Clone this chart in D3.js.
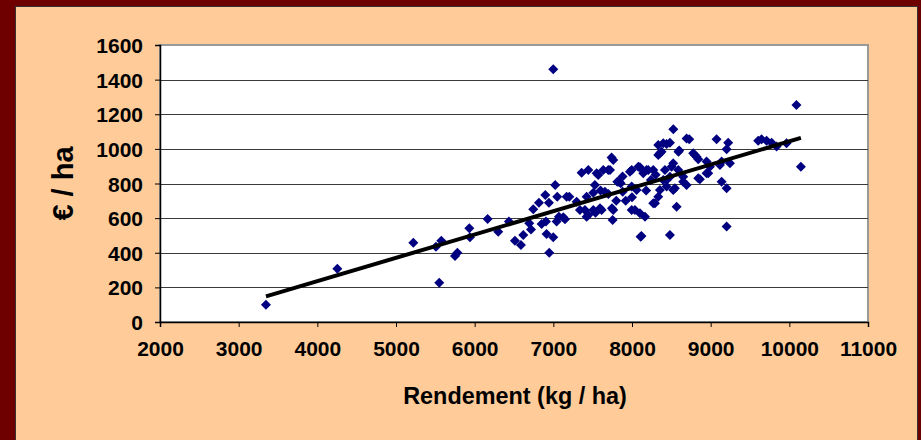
<!DOCTYPE html>
<html>
<head>
<meta charset="utf-8">
<script src="https://cdn.jsdelivr.net/npm/d3@7"></script>
<style>
  body { margin: 0; background: #6e0000; }
  #vis { width: 921px; height: 440px; }
  text { font-family: "Liberation Sans", Arial, sans-serif; font-weight: bold; fill: #000; }
</style>
</head>
<body>
<div id="vis"></div>
<script>
// rendement (kg/ha) and €/ha
var rendement = [3347, 4254, 5220, 5508, 5576, 5550, 5750, 5780, 5932, 5940,
  6165, 6300, 6436, 6512, 6588, 6618, 6694, 6716, 6745, 6817,
  6898, 6944, 6851, 6906, 6914, 6999, 6948, 7024, 7050, 7042,
  7071, 7148, 7203, 7296, 7338, 7423, 7423, 7536, 7614, 7528,
  7571, 7656, 7762, 7754, 7834, 7882, 7996, 8101, 8165, 8110,
  8270, 6999, 7762, 7740, 7360, 7445, 7550, 7635, 7698, 7996,
  8101, 8207, 8334, 8334, 8525, 8440, 8482, 8694, 8355, 8376,
  8590, 7720, 7508, 7402, 7445, 7508, 7593, 7745, 7169, 7126,
  7813, 7856, 7974, 8080, 8143, 7996, 8059, 8037, 8334, 8397,
  8482, 8524, 8588, 8651, 8355, 8440, 8545, 8567, 8120, 8482,
  8728, 9075, 9223, 9203, 9604, 9647, 9711, 9775, 9838, 9965,
  8800, 8842, 8948, 8990, 9139, 9245, 8863, 8948, 9139, 9203,
  8651, 8694, 8524, 8397, 8419, 8503, 8440, 10090, 10147, 9203,
  8292, 8600, 8778, 8820, 8969, 8842, 9118, 8185, 8270, 7600,
  7700, 7920, 8180, 8240, 8300, 7880, 8000, 7800];
var euroHa = [100, 308, 458, 435, 470, 227, 381, 400, 541, 489,
  595, 522, 580, 470, 445, 503, 570, 535, 651, 689,
  734, 689, 566, 580, 508, 489, 400, 792, 724, 580,
  608, 593, 724, 695, 647, 724, 608, 631, 647, 792,
  849, 753, 647, 589, 810, 753, 647, 628, 608, 493,
  686, 1460, 936, 950, 862, 878, 859, 878, 878, 878,
  894, 878, 1022, 965, 1113, 1028, 1036, 1060, 975, 984,
  984, 878, 747, 647, 618, 647, 657, 657, 724, 605,
  810, 801, 868, 897, 859, 782, 763, 647, 724, 820,
  839, 917, 878, 839, 763, 782, 772, 666, 497, 503,
  1055, 1055, 1036, 998, 1047, 1055, 1047, 1036, 1013, 1032,
  965, 940, 927, 897, 927, 917, 824, 859, 810, 772,
  810, 791, 763, 1032, 878, 897, 820, 1254, 897, 551,
  686, 990, 975, 955, 859, 830, 907, 878, 878, 760,
  740, 700, 760, 820, 850, 840, 720, 700];

// trend line end points
var trendX = [3347, 10147];
var trendY = [148, 1064];

var xTicks = [2000, 3000, 4000, 5000, 6000, 7000, 8000, 9000, 10000, 11000];
var yTicks = [0, 200, 400, 600, 800, 1000, 1200, 1400, 1600];

var points = rendement.map(function(d, i) { return {x: d, y: euroHa[i]}; });

var W = 921, H = 440;
var margin = {top: 45, right: 53, bottom: 118, left: 160};
var width = W - margin.left - margin.right,
    height = H - margin.top - margin.bottom;

var svg = d3.select("#vis").append("svg")
    .attr("width", W)
    .attr("height", H);

// chart area
svg.append("rect")
    .attr("x", 15.5).attr("y", 6.5)
    .attr("width", 902).attr("height", 440)
    .style("fill", "#ffcc99")
    .style("stroke", "#333")
    .style("stroke-width", 1);

var g = svg.append("g")
    .attr("transform", "translate(" + margin.left + "," + margin.top + ")");

var x = d3.scaleLinear().domain([2000, 11000]).range([0, width]);
var y = d3.scaleLinear().domain([0, 1600]).range([height, 0]);

// plot area
g.append("rect")
    .attr("width", width).attr("height", height)
    .style("fill", "#fff")
    .style("stroke", "#999")
    .style("stroke-width", 2);

// gridlines
g.append("g")
  .selectAll("line")
  .data(yTicks.slice(1, -1))
  .enter().append("line")
    .attr("x1", 0).attr("x2", width)
    .attr("y1", function(d) { return Math.round(y(d)) + 0.5; })
    .attr("y2", function(d) { return Math.round(y(d)) + 0.5; })
    .style("stroke", "#3a3a3a")
    .style("stroke-width", 1);

// axes
var xAxis = g.append("g")
    .attr("transform", "translate(0," + height + ")")
    .call(d3.axisBottom(x).tickValues(xTicks).tickSize(5).tickPadding(14).tickFormat(d3.format("d")));
var yAxis = g.append("g")
    .call(d3.axisLeft(y).tickValues(yTicks).tickSize(5).tickPadding(12).tickFormat(d3.format("d")));

[xAxis, yAxis].forEach(function(a) {
  a.select(".domain").style("stroke", "#000").style("stroke-width", 1.5);
  a.selectAll(".tick line").style("stroke", "#000");
  a.selectAll("text")
    .style("font-family", "'Liberation Sans', Arial, sans-serif")
    .style("font-weight", "bold")
    .style("font-size", "21px")
    .style("fill", "#000");
});
yAxis.selectAll("text").attr("dy", "0.36em");

// points
g.append("g")
  .selectAll("path")
  .data(points)
  .enter().append("path")
    .attr("d", d3.symbol().type(d3.symbolSquare).size(50))
    .attr("transform", function(d) {
      return "translate(" + x(d.x) + "," + y(d.y) + ") rotate(45)";
    })
    .style("fill", "#000080");

// trend line
g.append("path")
    .datum(trendX.map(function(d, i) { return [d, trendY[i]]; }))
    .attr("d", d3.line().x(function(d) { return x(d[0]); }).y(function(d) { return y(d[1]); }))
    .style("fill", "none")
    .style("stroke", "#000")
    .style("stroke-width", 4);

// axis titles
svg.append("text")
    .attr("x", 515).attr("y", 404)
    .attr("text-anchor", "middle")
    .style("font-size", "23.4px")
    .text("Rendement (kg / ha)");

svg.append("text")
    .attr("transform", "translate(73," + (margin.top + height / 2) + ") rotate(-90)")
    .attr("text-anchor", "middle")
    .style("font-size", "29px")
    .text("€ / ha");
</script>
</body>
</html>
